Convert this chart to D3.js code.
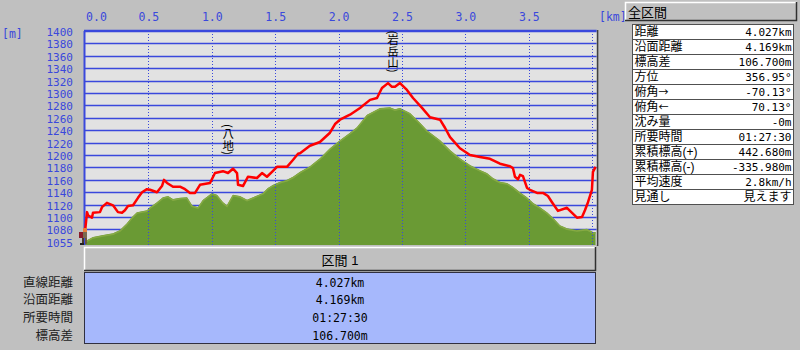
<!DOCTYPE html>
<html>
<head>
<meta charset="utf-8">
<script src="https://cdn.jsdelivr.net/npm/d3@7"></script>
<style>
  body { margin: 0; background: #c0c0c0; }
  svg { display: block; }
  .vert { writing-mode: vertical-rl; text-orientation: mixed; }
</style>
</head>
<body>
<div class="chart"></div>
<script>
// route profile (red) - distance km / elevation m
const routeKm = [0.000, 0.016, 0.024, 0.055, 0.063, 0.118, 0.134, 0.173, 0.197, 0.221, 0.260, 0.292, 0.315, 0.339, 0.379, 0.418, 0.450, 0.489, 0.513, 0.568, 0.607, 0.623, 0.647, 0.694, 0.749, 0.789, 0.828, 0.868, 0.907, 0.986, 1.025, 1.088, 1.128, 1.167, 1.199, 1.207, 1.246, 1.285, 1.356, 1.396, 1.435, 1.475, 1.514, 1.593, 1.640, 1.680, 1.696, 1.774, 1.853, 1.932, 1.972, 2.011, 2.090, 2.169, 2.248, 2.303, 2.342, 2.390, 2.421, 2.445, 2.484, 2.539, 2.587, 2.658, 2.721, 2.800, 2.839, 2.879, 2.957, 3.036, 3.115, 3.194, 3.273, 3.352, 3.375, 3.391, 3.415, 3.431, 3.454, 3.486, 3.509, 3.565, 3.612, 3.651, 3.683, 3.730, 3.801, 3.825, 3.880, 3.920, 3.943, 3.967, 3.998, 4.006, 4.027]
const routeElev = [1076, 1108, 1103, 1099, 1107, 1108, 1116, 1123, 1121, 1119, 1108, 1107, 1111, 1118, 1119, 1131, 1140, 1145, 1144, 1140, 1150, 1160, 1155, 1149, 1149, 1145, 1139, 1139, 1152, 1155, 1171, 1174, 1171, 1178, 1171, 1152, 1150, 1165, 1163, 1171, 1165, 1173, 1181, 1181, 1192, 1202, 1203, 1215, 1221, 1236, 1250, 1257, 1265, 1276, 1289, 1292, 1308, 1316, 1310, 1310, 1316, 1305, 1292, 1276, 1261, 1257, 1244, 1229, 1211, 1200, 1197, 1194, 1186, 1182, 1179, 1165, 1161, 1168, 1166, 1147, 1144, 1139, 1139, 1134, 1124, 1110, 1115, 1110, 1099, 1100, 1111, 1124, 1144, 1173, 1181]

// ground section (green)
const groundKm = [0.000, 0.063, 0.142, 0.221, 0.276, 0.331, 0.371, 0.410, 0.489, 0.513, 0.568, 0.615, 0.655, 0.694, 0.749, 0.804, 0.844, 0.891, 0.931, 1.002, 1.041, 1.088, 1.120, 1.167, 1.222, 1.278, 1.325, 1.404, 1.443, 1.483, 1.538, 1.593, 1.640, 1.696, 1.774, 1.853, 1.932, 2.011, 2.090, 2.145, 2.224, 2.326, 2.405, 2.445, 2.484, 2.563, 2.642, 2.697, 2.800, 2.879, 2.957, 3.036, 3.115, 3.170, 3.218, 3.273, 3.328, 3.375, 3.431, 3.486, 3.533, 3.588, 3.643, 3.691, 3.746, 3.801, 3.880, 3.959, 4.006, 4.027]
const groundElev = [1061, 1068, 1071, 1074, 1079, 1090, 1100, 1108, 1111, 1116, 1124, 1132, 1134, 1129, 1131, 1132, 1119, 1116, 1128, 1139, 1136, 1124, 1119, 1136, 1134, 1128, 1132, 1139, 1147, 1152, 1157, 1160, 1165, 1173, 1182, 1195, 1211, 1224, 1236, 1245, 1265, 1276, 1277, 1274, 1276, 1268, 1252, 1240, 1224, 1208, 1195, 1184, 1176, 1171, 1163, 1157, 1155, 1149, 1140, 1132, 1123, 1116, 1108, 1099, 1087, 1082, 1079, 1081, 1076, 1076]

const xTicks = [0, 0.5, 1.0, 1.5, 2.0, 2.5, 3.0, 3.5]
const xGrid = [0.5, 1.0, 1.5, 2.0, 2.5, 3.0, 3.5, 4.0]
const yTicks = [1055, 1080, 1100, 1120, 1140, 1160, 1180, 1200, 1220, 1240, 1260, 1280, 1300, 1320, 1340, 1360, 1380, 1400]
const yGrid = [1080, 1100, 1120, 1140, 1160, 1180, 1200, 1220, 1240, 1260, 1280, 1300, 1320, 1340, 1360, 1380]

const peakNames = ["(岩岳山)", "(八地)"]
const peakKm = [2.43, 1.13]
const peakTop = [1401, 1250]

const infoLabels = ["距離", "沿面距離", "標高差", "方位", "俯角→", "俯角←", "沈み量", "所要時間", "累積標高(+)", "累積標高(-)", "平均速度", "見通し"]
const infoValues = ["4.027km", "4.169km", "106.700m", "356.95°", "-70.13°", "70.13°", "-0m", "01:27:30", "442.680m", "-335.980m", "2.8km/h", "見えます"]

const sectLabels = ["直線距離", "沿面距離", "所要時間", "標高差"]
const sectValues = ["4.027km", "4.169km", "01:27:30", "106.700m"]

const W = 800, H = 350
const jp = "'Liberation Sans', 'Noto Sans CJK JP', sans-serif"
const num = "'DejaVu Sans Mono', 'Liberation Mono', monospace"
const blue = "#3a48dc"

const svg = d3.select(".chart").append("svg")
  .attr("width", W)
  .attr("height", H)

svg.append("rect").attr("width", W).attr("height", H).attr("fill", "#c0c0c0")

const x = d3.scaleLinear().domain([0, 4.027]).range([85, 595.6])
const y = d3.scaleLinear().domain([1055, 1400]).range([245, 31])

// plot background
svg.append("rect")
  .attr("x", x(0)).attr("y", y(1400))
  .attr("width", x(4.027) - x(0) + 1).attr("height", y(1055) - y(1400))
  .attr("fill", "#e2e2e2")

// horizontal grid
svg.append("g").selectAll("line")
  .data(yGrid).enter().append("line")
  .attr("x1", x(0)).attr("x2", x(4.027) + 1)
  .attr("y1", d => Math.round(y(d)) + 0.5).attr("y2", d => Math.round(y(d)) + 0.5)
  .attr("stroke", blue).attr("stroke-width", 1.3)

// ground area
const area = d3.area()
  .x((d, i) => x(groundKm[i]))
  .y0(y(1055))
  .y1(d => y(d))
svg.append("path")
  .datum(groundElev)
  .attr("d", area)
  .attr("fill", "#6a9a34")
svg.append("path")
  .datum(groundElev)
  .attr("d", d3.line().x((d, i) => x(groundKm[i])).y(d => y(d) + 1))
  .attr("fill", "none")
  .attr("stroke", "#86aa44")
  .attr("stroke-width", 1.5)

// vertical dotted grid
svg.append("g").selectAll("line")
  .data(xGrid).enter().append("line")
  .attr("x1", d => Math.round(x(d)) + 0.5).attr("x2", d => Math.round(x(d)) + 0.5)
  .attr("y1", y(1400)).attr("y2", y(1055))
  .attr("stroke", blue).attr("stroke-width", 1)
  .attr("stroke-dasharray", "1,2")

// borders
svg.append("line").attr("x1", x(0) - 1).attr("x2", x(4.027) + 1)
  .attr("y1", y(1400)).attr("y2", y(1400))
  .attr("stroke", blue).attr("stroke-width", 2.5)
svg.append("line").attr("x1", x(0) - 0.5).attr("x2", x(0) - 0.5)
  .attr("y1", y(1400)).attr("y2", y(1055))
  .attr("stroke", blue).attr("stroke-width", 2)
svg.append("line").attr("x1", x(4.027) + 2).attr("x2", x(4.027) + 2)
  .attr("y1", y(1400) - 1).attr("y2", y(1055) + 1)
  .attr("stroke", "#404040").attr("stroke-width", 1.5)

// route line
const line = d3.line()
  .x((d, i) => x(routeKm[i]))
  .y(d => y(d))
svg.append("path")
  .datum(routeElev)
  .attr("d", line)
  .attr("fill", "none")
  .attr("stroke", "#ff0000")
  .attr("stroke-width", 2.5)
  .attr("stroke-linejoin", "round")

// peak names (vertical)
svg.append("g").selectAll("text")
  .data(peakNames).enter().append("text")
  .attr("class", "vert")
  .attr("x", (d, i) => x(peakKm[i]))
  .attr("y", (d, i) => y(peakTop[i]))
  .attr("font-family", "'Noto Sans CJK JP', sans-serif")
  .attr("font-size", 11.5)
  .attr("fill", "#000")
  .text(d => d)

// hiker icon at the start
const hk = svg.append("g").attr("transform", `translate(${x(0) - 6},${y(1055) - 17})`)
hk.append("rect").attr("x", 4).attr("y", 0).attr("width", 4).attr("height", 4).attr("fill", "#e8803c")
hk.append("rect").attr("x", 0).attr("y", 4).attr("width", 4).attr("height", 6).attr("fill", "#8a1a2a")
hk.append("rect").attr("x", 4).attr("y", 4).attr("width", 4).attr("height", 6).attr("fill", "#7a6a50")
hk.append("rect").attr("x", 3).attr("y", 10).attr("width", 2).attr("height", 6).attr("fill", "#4a3a2a")
hk.append("rect").attr("x", 6).attr("y", 10).attr("width", 2).attr("height", 6).attr("fill", "#6a5a44")
hk.append("rect").attr("x", 1).attr("y", 15).attr("width", 4).attr("height", 2).attr("fill", "#202020")

// x axis (top)
const xAxis = d3.axisTop(x)
  .tickValues(xTicks)
  .tickSize(0)
  .tickPadding(0)
  .tickFormat(d3.format(".1f"))
const xAxisGroup = svg.append("g")
  .attr("transform", "translate(0,13)")
  .call(xAxis)
xAxisGroup.select(".domain").remove()
xAxisGroup.selectAll("text")
  .attr("font-family", num).attr("font-size", 11.5).attr("fill", blue)
  .attr("dy", "0.71em")
  .attr("dx", d => d === 0 ? 11 : 0)

svg.append("text").attr("x", 599).attr("y", 21)
  .attr("font-family", num).attr("font-size", 11.5).attr("fill", blue)
  .text("[km]")

// y axis
const yAxis = d3.axisLeft(y)
  .tickValues(yTicks)
  .tickSize(0)
  .tickPadding(12)
  .tickFormat(d3.format("d"))
const yAxisGroup = svg.append("g")
  .attr("transform", `translate(${x(0)},0)`)
  .call(yAxis)
yAxisGroup.select(".domain").remove()
yAxisGroup.selectAll("text")
  .attr("font-family", num).attr("font-size", 11).attr("fill", blue)
  .attr("dy", d => d === 1055 ? "0.15em" : "0.4em")

svg.append("text").attr("x", 2).attr("y", 38)
  .attr("font-family", num).attr("font-size", 11.5).attr("fill", blue)
  .text("[m]")

// bevel box helper
function bevel(x0, y0, w, h) {
  svg.append("rect").attr("x", x0).attr("y", y0).attr("width", w).attr("height", h).attr("fill", "#c0c0c0")
  svg.append("path").attr("d", `M${x0 + 0.5},${y0 + h}V${y0 + 0.5}H${x0 + w}`)
    .attr("fill", "none").attr("stroke", "#ffffff").attr("stroke-width", 1.5)
  svg.append("path").attr("d", `M${x0},${y0 + h - 0.5}H${x0 + w - 0.5}V${y0}`)
    .attr("fill", "none").attr("stroke", "#303030").attr("stroke-width", 1.5)
}

// right info table
bevel(625, 2, 172, 19)
svg.append("text").attr("x", 628).attr("y", 17)
  .attr("font-family", jp).attr("font-size", 13).attr("fill", "#000")
  .text("全区間")

const rowH = 15
const rows = svg.append("g").selectAll("g")
  .data(infoLabels).enter().append("g")
  .attr("transform", (d, i) => `translate(632.5,${24.5 + i * rowH})`)
rows.append("rect")
  .attr("width", 161).attr("height", rowH)
  .attr("fill", "#ffffff").attr("stroke", "#505050").attr("stroke-width", 1)
const labelText = rows.append("text")
  .attr("x", 2).attr("y", 11.5)
  .attr("font-family", jp).attr("font-size", 12).attr("fill", "#000")
// arrows drawn in the CJK font so they are full width
labelText.each(function(d) {
  const t = d3.select(this)
  const m = d.match(/^(.*?)([→←])$/)
  if (m) {
    t.append("tspan").text(m[1])
    t.append("tspan").attr("font-family", "'Noto Sans CJK JP'").attr("font-size", 10).text(m[2])
  } else {
    t.text(d)
  }
})
rows.append("text")
  .attr("x", 159).attr("y", 11.5)
  .attr("text-anchor", "end")
  .attr("font-family", (d, i) => i === 11 ? jp : num)
  .attr("font-size", (d, i) => i === 11 ? 12 : 11)
  .attr("fill", "#000")
  .text((d, i) => infoValues[i])

// bottom section table
bevel(84, 247, 512, 24)
svg.append("text").attr("x", 340).attr("y", 264.5)
  .attr("text-anchor", "middle")
  .attr("font-family", jp).attr("font-size", 13).attr("fill", "#000")
  .text("区間 1")

svg.append("rect").attr("x", 84.5).attr("y", 272.5).attr("width", 511).attr("height", 71)
  .attr("fill", "#a6b8fc").attr("stroke", "#303040").attr("stroke-width", 1)

const sectY = d3.scalePoint().domain(sectLabels).range([282, 335])
svg.append("g").selectAll("text")
  .data(sectLabels).enter().append("text")
  .attr("x", 73).attr("y", d => sectY(d) + 4.5)
  .attr("text-anchor", "end")
  .attr("font-family", jp).attr("font-size", 12.5).attr("fill", "#202020")
  .text(d => d)
svg.append("g").selectAll("text")
  .data(sectValues).enter().append("text")
  .attr("x", 340).attr("y", (d, i) => sectY(sectLabels[i]) + 4.5)
  .attr("text-anchor", "middle")
  .attr("font-family", num).attr("font-size", 11.5).attr("fill", "#000")
  .text(d => d)
</script>
</body>
</html>
